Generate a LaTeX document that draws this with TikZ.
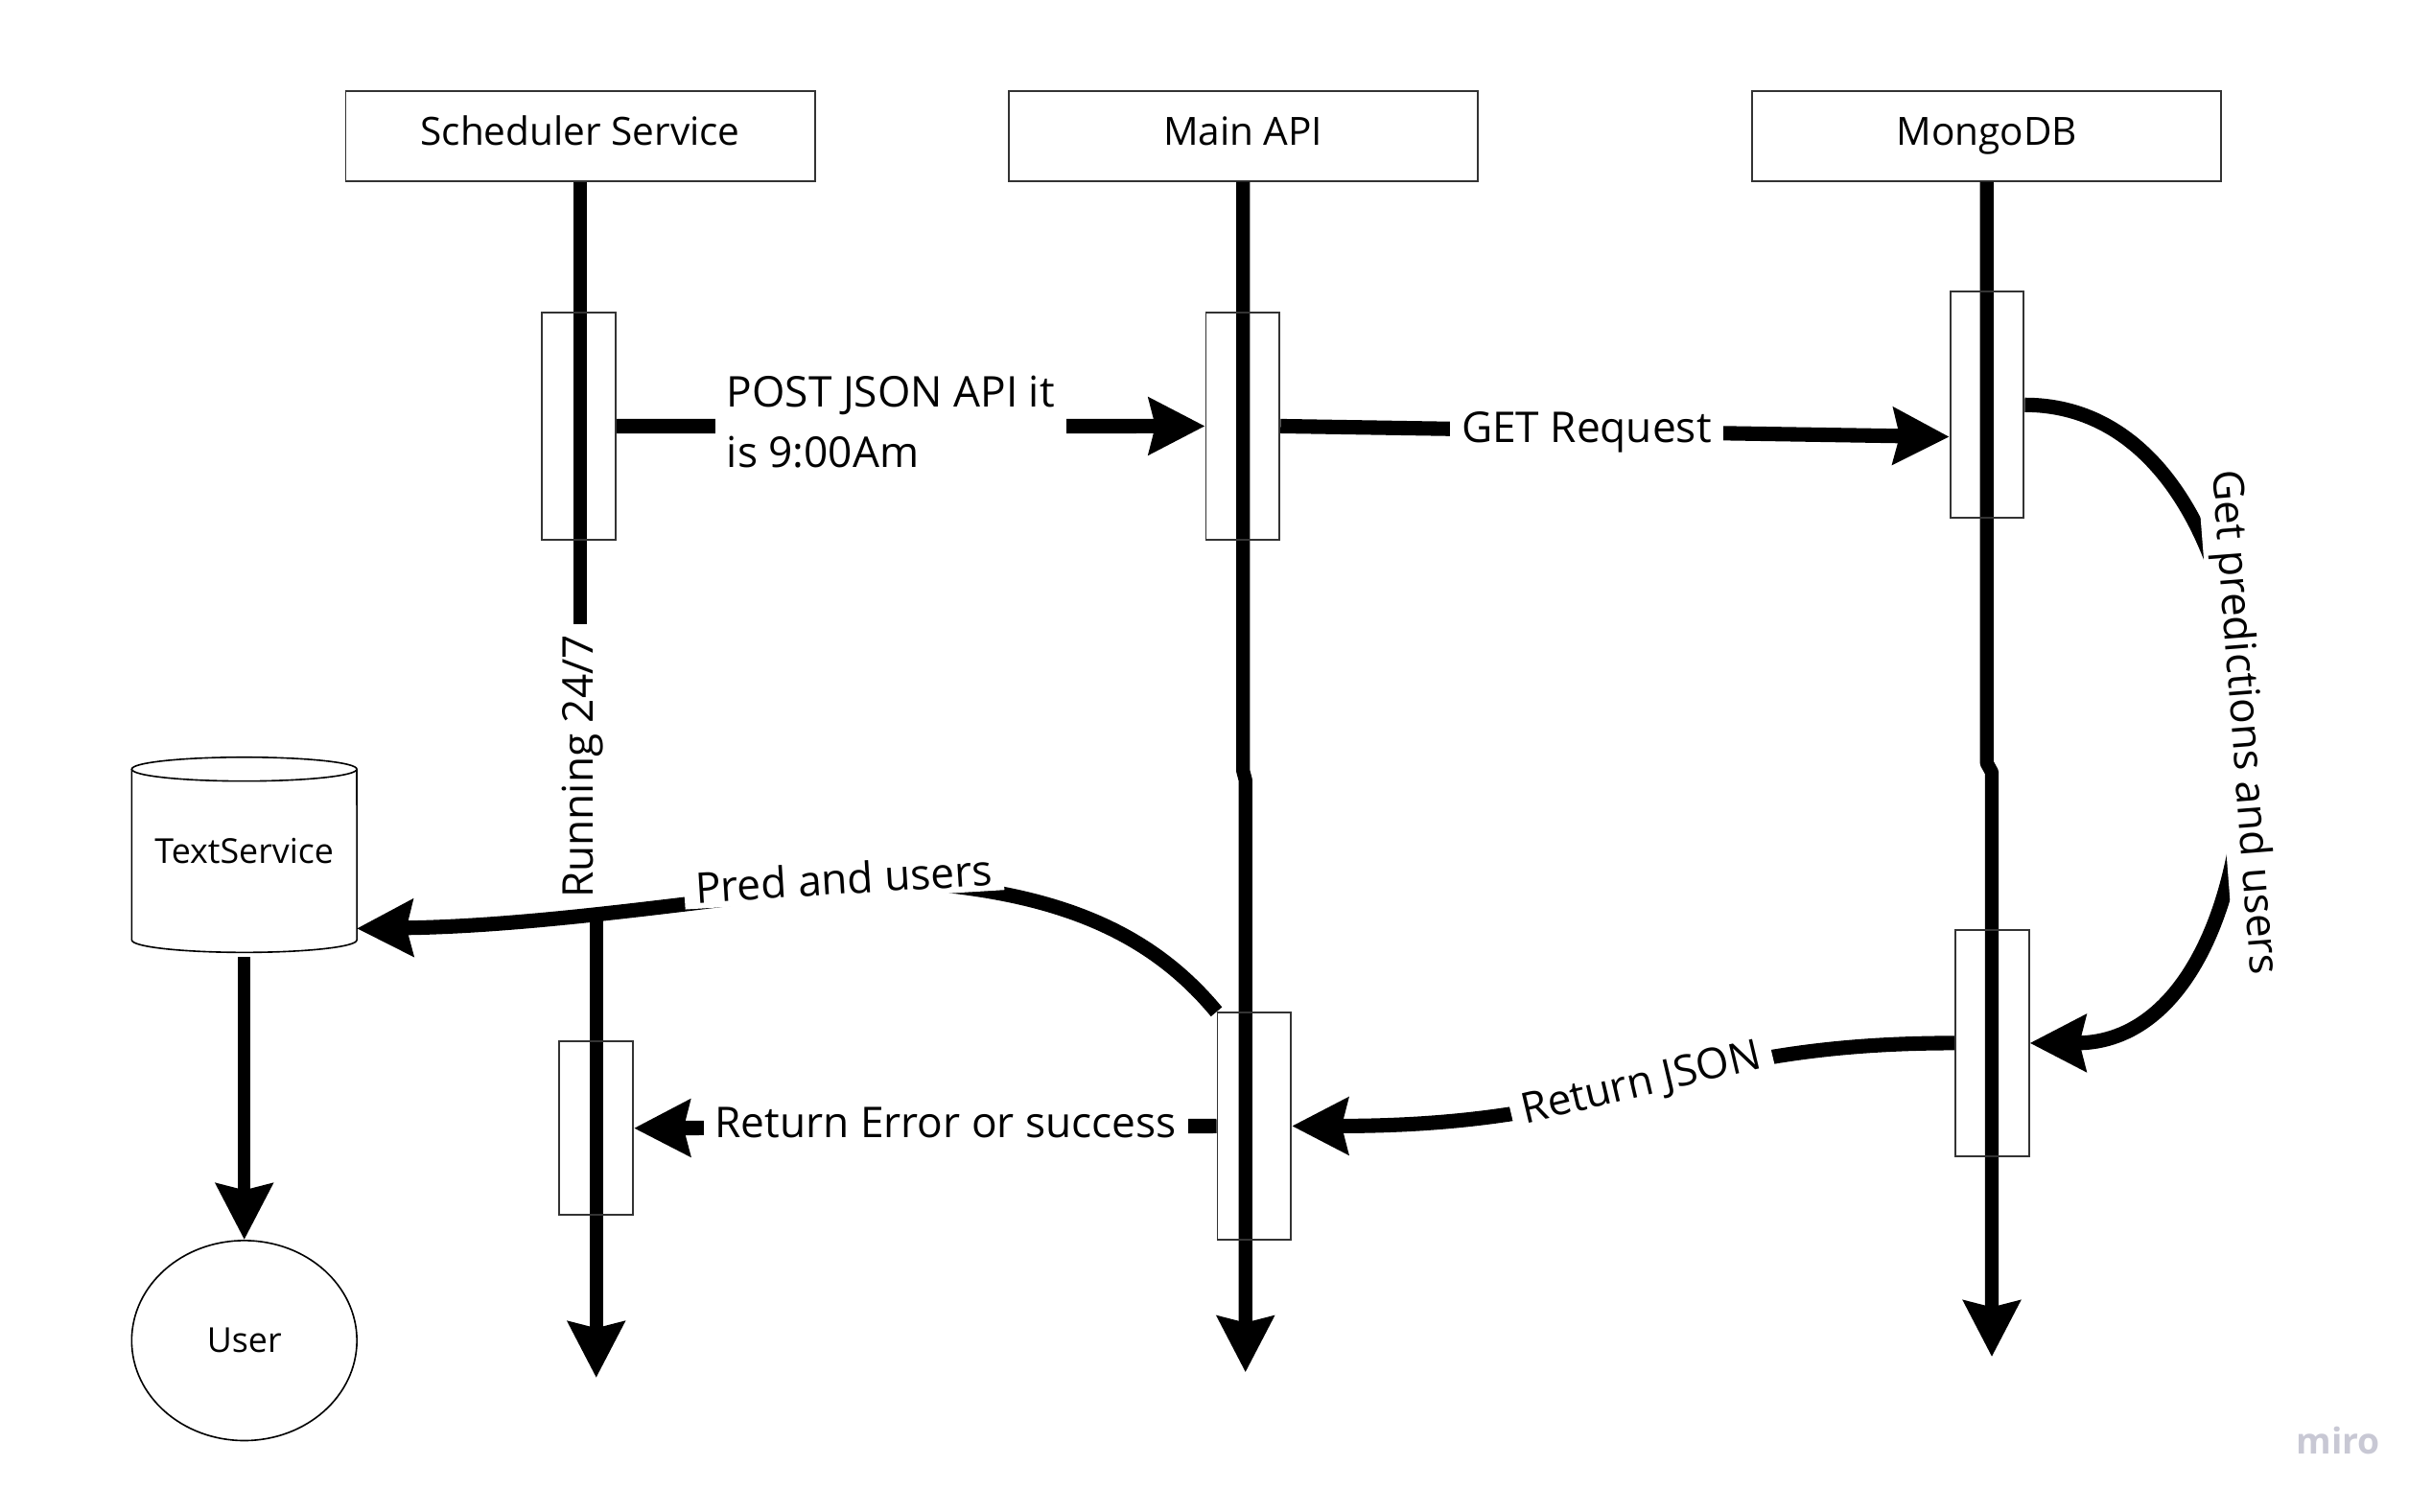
\documentclass[tikz,border=0pt]{standalone}
\usepackage{fontspec}
\setmainfont{Open Sans}
\usetikzlibrary{arrows.meta,calc,shapes.geometric}
\definecolor{edgegray}{RGB}{51,51,51}
\definecolor{mirogray}{RGB}{200,200,212}
\begin{document}
\begin{tikzpicture}[x=0.75pt,y=-0.75pt,
  hdr/.style={draw=edgegray, line width=0.9pt, minimum width=226.8pt, minimum height=43.3pt, inner sep=0pt, text height=13.5pt, text depth=4.3pt, font=\fontsize{18.8}{22}\selectfont},
  actbox/.style={draw=edgegray, line width=0.9pt, minimum width=35.6pt, minimum height=109.6pt, inner sep=0pt},
  life/.style={line width=6.6pt, line join=round},
  msg/.style={line width=7pt},
  tipx/.style={-{Stealth[length=27pt,width=27pt,inset=3pt]}},
  lbl/.style={font=\fontsize{20.5}{29.25}\selectfont, fill=white, inner xsep=5.5pt, inner ysep=2.5pt},
  cyl/.style={line width=0.75pt},
]
\useasboundingbox (0,0) rectangle (1568,974.5);

% headers
\node[hdr] (sched) at (374.1,87.75) {Scheduler Service};
\node[hdr] (mainapi) at (801.4,87.75) {Main API};
\node[hdr] (mongo) at (1280.9,87.75) {MongoDB};

% lifelines
\coordinate (sMid) at (374.1,402.3);
\coordinate (sLow) at (384.4,592.5);
\coordinate (sEnd) at (384.4,888.5);
\draw[life] (sched.south) -- (sMid);
\draw[life,tipx] (sLow) -- (sEnd);
\node[font=\fontsize{20.5}{24}\selectfont, rotate=90, inner sep=0pt] (runlbl) at (375.5,494.3) {Running 24/7};

\coordinate (mJ1) at (801.4,497);
\coordinate (mJ2) at (803,503);
\coordinate (mEnd) at (803,885);
\draw[life,tipx] (mainapi.south) -- (mJ1) -- (mJ2) -- (mEnd);

\coordinate (dJ1) at (1280.9,492);
\coordinate (dJ2) at (1284.2,498);
\coordinate (dEnd) at (1284.2,875);
\draw[life,tipx] (mongo.south) -- (dJ1) -- (dJ2) -- (dEnd);

% activation boxes
\node[actbox] (actS1) at (373.35,274.85) {};
\node[actbox] (actM1) at (801.25,274.8) {};
\node[actbox] (actD1) at (1281.15,261.1) {};
\node[actbox] (actD2) at (1284.35,672.65) {};
\node[actbox] (actM2) at (808.65,726.15) {};
\node[actbox, minimum height=84pt] (actS2) at (384.4,727.55) {};

% TextService (cylinder) and User
\node[inner sep=0pt, outer sep=0pt, minimum width=108.8pt, minimum height=94.4pt, text depth=3.8pt, font=\fontsize{16.6}{20}\selectfont] (textsvc) at (157.5,551.25) {TextService};
\draw[cyl] ($(textsvc.north)+(0,7.7)$) ellipse [x radius=72.55, y radius=7.7];
\draw[cyl] ($(textsvc.north west)+(0,7.7)$) -- ($(textsvc.south west)+(0,-8)$)
   arc[start angle=180, end angle=0, x radius=72.55, y radius=8] -- ($(textsvc.north east)+(0,7.7)$);
\node[draw, ellipse, line width=0.75pt, minimum width=108.9pt, minimum height=96.75pt, inner sep=0pt, font=\fontsize{16.6}{20}\selectfont] (user) at (157.5,864.5) {User};
\draw[line width=6pt, tipx] ($(textsvc.south)+(0,3)$) -- (user.north);

% messages
\draw[msg,tipx] (actS1.east) -- (actM1.west);
\node[lbl, align=left, anchor=base west] (postlbl) at (461,301.4) {POST JSON API it\\is 9:00Am};

\draw[msg,tipx] (actM1.east) -- ($(actD1.west)+(0,20.6)$);
\node[lbl, anchor=base] (getlbl) at (1022.9,285.5) {GET Request};

\draw[msg,tipx] (actD1.east) .. controls (1488,261.1) and (1488,672.65) .. (actD2.east);
\node[lbl, rotate=-85.6] (predlbl) at (1446,466) {Get predictions and users};

\draw[msg,tipx] (actD2.west) .. controls (1075,672.65) and (1050,726.15) .. (actM2.east)
  node[midway, sloped, lbl] (jsonlbl) {Return JSON};

\draw[msg,tipx] (actM2.west) -- (actS2.east);
\node[lbl, anchor=base] (errlbl) at (609.75,733.8) {Return Error or success};

\draw[msg,tipx] (actM2.north west) .. controls (745,605) and (690,578) .. (600,570)
  .. controls (540,565) and (380,597) .. ($(textsvc.east)+(0,47.5)$);
\node[lbl, rotate=3.5, anchor=base] (usrlbl) at (544.5,576.6) {Pred and users};

% watermark
\node[font=\fontsize{17.3}{20}\selectfont\bfseries, text=mirogray, anchor=base, inner sep=0pt] (miro) at (1507.5,937.8) {miro};
\end{tikzpicture}
\end{document}
